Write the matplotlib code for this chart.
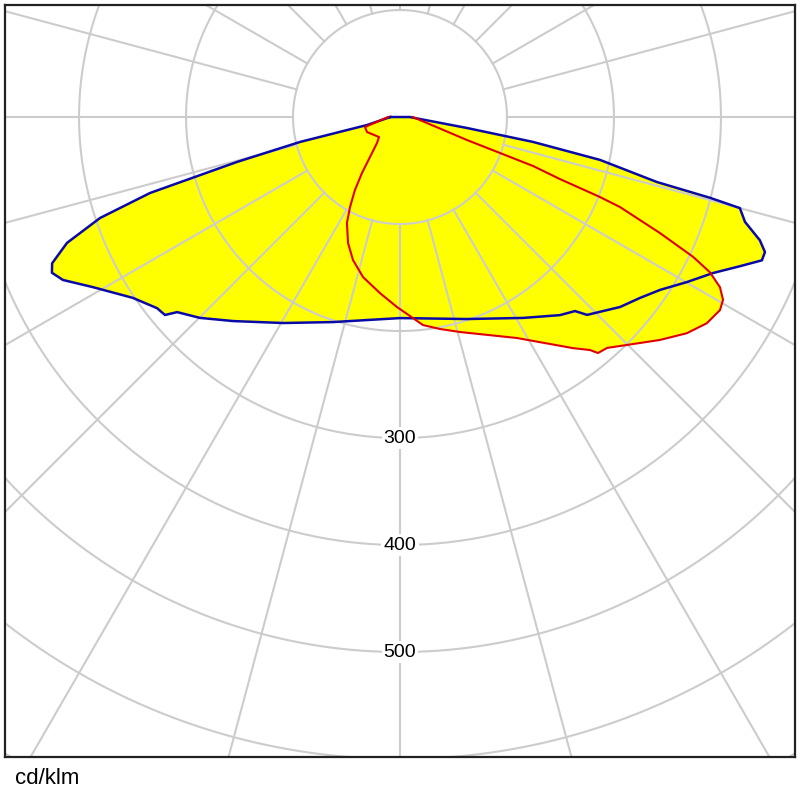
import numpy as np
import matplotlib
matplotlib.use("Agg")
import matplotlib.pyplot as plt
from matplotlib import font_manager

# Polar luminous intensity data (gamma angle in degrees from nadir, negative = left; cd/klm)
blue_angles = [-90, -76.4, -76.0, -74.6, -73.8, -73.1, -71.4, -69.3, -67.2, -65.9, -64.2,
               -61.0, -55.9, -51.8, -49.9, -48.8, -44.9, -39.3, -29.6, -18.1, 0.0, 18.35,
               31.5, 38.9, 42.05, 43.4, 49.2, 53.0, 56.4, 60.1, 63.5, 66.3, 68.4, 69.7,
               71.1, 73.1, 75.0, 75.4, 75.8, 77.9, 79.4, 80.7, 90]
blue_values = [9, 31.7, 96.3, 158, 194.6, 244.2, 295.8, 332.7, 352.7, 356.4, 349.9,
               328.0, 301.5, 288.9, 287.2, 276.8, 265.0, 246.4, 221.4, 201.6, 187.9, 198.9,
               220.2, 237.9, 244.2, 254.5, 271.7, 280.9, 291.9, 309.4, 326.8, 346.9, 363.8, 363.7,
               355.5, 337.0, 328.9, 299.4, 247.8, 191.2, 126.5, 63.5, 9]

red_angles = [-90, -74.1, -65.6, -46.4, -41.5, -36.9, -34.2, -31.7, -29.05, -26.6, -22.4,
              -18.2, -13.0, -6.5, -0.9, 3.7, 6.3, 10.7, 15.6, 27.9, 36.8, 39.2, 40.0, 41.9,
              44.9, 49.4, 53.0, 56.1, 58.9, 60.5, 62.0, 63.4, 64.5, 65.95, 67.75, 68.2,
              68.8, 69.8, 71.05, 90]
red_values = [11.2, 34.0, 33.9, 27.1, 32.4, 46.7, 63.2, 80.1, 96.2, 110.8, 127.4,
              140.7, 153.5, 165.6, 177.6, 188.3, 195.6, 201.6, 208.6, 233.7, 269.7, 281.0, 287.9, 289.9,
              300.7, 320.1, 335.7, 345.5, 349.3, 346.9, 338.7, 323.9, 303.5, 266.1, 222.1, 201.3,
              160.4, 132.5, 66.2, 12]

ring_values = [100, 200, 300, 400, 500, 600, 700]
ring_labels = ["300", "400", "500"]
spoke_step = 15
unit_label = "cd/klm"

plt.rcParams['font.family'] = ['Liberation Sans', 'DejaVu Sans']
names = {f.name for f in font_manager.fontManager.ttflist}
has_narrow = 'Liberation Sans Narrow' in names
label_family = ['Liberation Sans Narrow', 'Liberation Sans'] if has_narrow else ['Liberation Sans']
label_size = 16 if has_narrow else 14

fig = plt.figure(figsize=(8, 8), dpi=100)
ax = fig.add_axes([5/800, 43/800, 790/800, 752/800])
ax.set_xlim(-369.2, 369.2)
ax.set_ylim(-598.1, 104.7)
ax.set_xticks([])
ax.set_yticks([])
for s in ax.spines.values():
    s.set_linewidth(1.6)
    s.set_color('#222222')


def to_xy(angles, values):
    a = np.radians(np.asarray(angles, float))
    v = np.asarray(values, float)
    return v * np.sin(a), -v * np.cos(a)


bx, by = to_xy(blue_angles, blue_values)
rx, ry = to_xy(red_angles, red_values)

ax.fill(bx, by, color='#ffff00', lw=0, zorder=1)
ax.fill(rx, ry, color='#ffff00', lw=0, zorder=1)

grid_col = '#cccccc'
t = np.linspace(0, 2 * np.pi, 721)
for r in ring_values:
    ax.plot(r * np.cos(t), r * np.sin(t), color=grid_col, lw=1.5, zorder=2)
for ang in range(0, 360, spoke_step):
    a = np.radians(ang)
    ax.plot([100 * np.sin(a), 900 * np.sin(a)], [-100 * np.cos(a), -900 * np.cos(a)],
            color=grid_col, lw=1.5, zorder=2)

ax.plot(np.append(bx, bx[0]), np.append(by, by[0]), color='#0a0aa8', lw=1.8, zorder=4,
        solid_joinstyle='round')
ax.plot(rx, ry, color='#e00000', lw=1.5, zorder=5, solid_joinstyle='round')

for lab in ring_labels:
    ax.text(0, -float(lab), lab, ha='center', va='center', fontsize=label_size, color='black',
            family=label_family,
            bbox=dict(facecolor='white', edgecolor='none', pad=1.5), zorder=6)

fig.text(15/800, 1 - 778/800, unit_label, ha='left', va='center', fontsize=16)

fig.savefig('out.png', dpi=100)
